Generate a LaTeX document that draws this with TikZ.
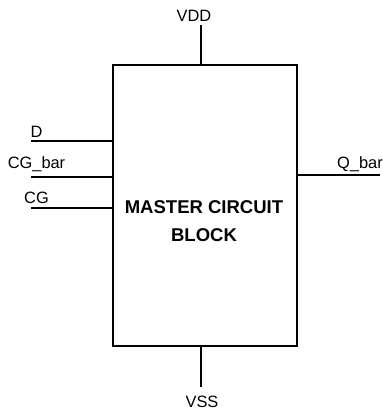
\documentclass[tikz,border=0pt]{standalone}
\usepackage{fontspec}
\setmainfont{Liberation Sans}
\usepackage{tikz}

\begin{document}
\begin{tikzpicture}[x=0.03cm,y=-0.03cm,
  pin/.style={line width=2.2pt},
  pinlbl/.style={anchor=base,inner sep=0pt,font=\fontsize{14}{16}\selectfont},
  blocklbl/.style={align=center,inner sep=0pt,font=\fontsize{15.8}{24.5}\selectfont\bfseries}]
\useasboundingbox (0,0) rectangle (383,409);
\node[draw,line width=2.4pt,minimum width=5.52cm,minimum height=8.43cm,inner sep=0pt] (master) at (205,205.5) {};
\node[blocklbl] (mastertxt) at (204,221) {MASTER CIRCUIT\\BLOCK};
% supply pins
\coordinate (vddend) at (201,25);
\coordinate (vssend) at (201,387);
\draw[pin] (vddend) -- (vddend |- master.north);
\draw[pin] (vssend) -- (vssend |- master.south);
\node[pinlbl] (vdd) at (194,21) {VDD};
\node[pinlbl] (vss) at (202,407) {VSS};
% inputs
\coordinate (dend) at (31,141);
\coordinate (cgbend) at (31,177);
\coordinate (cgend) at (31,208);
\draw[pin] (dend) -- (dend -| master.west);
\draw[pin] (cgbend) -- (cgbend -| master.west);
\draw[pin] (cgend) -- (cgend -| master.west);
\node[pinlbl] (d) at (36.5,137) {D};
\node[pinlbl] (cgb) at (36.5,168) {CG\_bar};
\node[pinlbl] (cg) at (36.5,203) {CG};
% output
\coordinate (qbend) at (380,175);
\draw[pin] (qbend) -- (qbend -| master.east);
\node[pinlbl] (qb) at (360,168) {Q\_bar};
\end{tikzpicture}
\end{document}
